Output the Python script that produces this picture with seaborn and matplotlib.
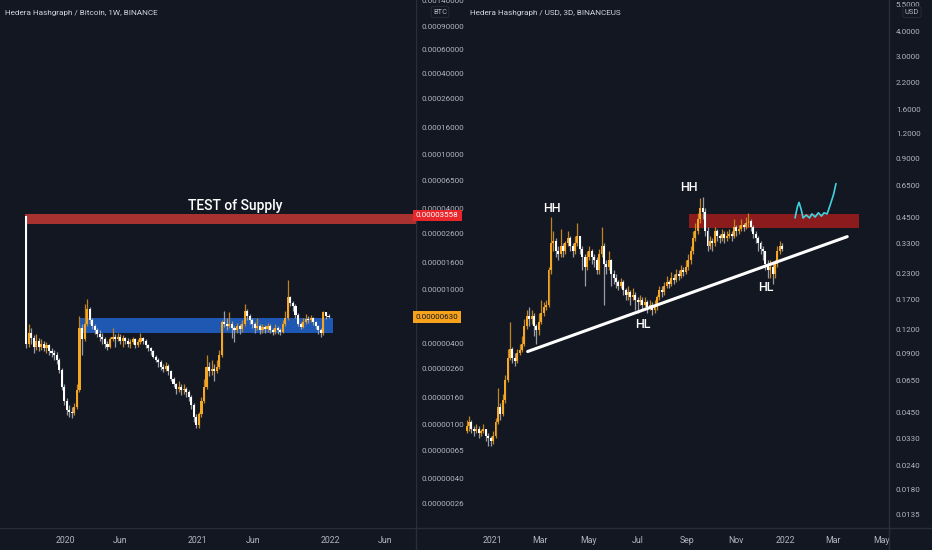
import numpy as np
import pandas as pd
import matplotlib
matplotlib.use("Agg")
import matplotlib.pyplot as plt
import matplotlib.dates as mdates
import matplotlib.transforms as mtransforms
from matplotlib.lines import Line2D
from matplotlib.ticker import NullLocator
import seaborn as sns

# --- HBAR / BTC weekly (values in satoshi, 1e-8 BTC) ---
btc_start = "2019-09-16"
btc_first_open = 3524
btc_close = [400, 480, 440, 380, 420, 380, 400, 370, 390, 350,
             340, 330, 300, 255, 190, 150, 128, 125, 122, 135,
             180, 520, 430, 560, 720, 600, 540, 500, 470, 450,
             430, 400, 380, 430, 450, 430, 450, 420, 440, 420,
             400, 410, 430, 390, 410, 440, 420, 390, 370, 350,
             320, 300, 290, 270, 260, 275, 250, 220, 200, 185,
             190, 180, 185, 175, 160, 140, 115, 100, 120, 150,
             190, 270, 250, 260, 250, 270, 330, 580, 560, 540,
             560, 520, 500, 540, 510, 560, 700, 640, 600, 560,
             520, 540, 500, 530, 510, 540, 500, 490, 520, 500,
             490, 560, 620, 880, 800, 760, 650, 560, 530, 580,
             610, 600, 620, 580, 540, 500, 480, 680, 640, 630]
btc_high = [3524, 560, 520, 460, 470, 440, 430, 420, 410, 400,
            370, 360, 345, 310, 265, 200, 158, 140, 135, 145,
            200, 640, 560, 780, 850, 740, 620, 560, 520, 500,
            480, 450, 420, 450, 520, 470, 480, 470, 460, 450,
            440, 430, 450, 440, 430, 480, 450, 430, 400, 380,
            360, 330, 310, 300, 280, 290, 280, 255, 225, 205,
            210, 200, 200, 190, 180, 165, 145, 120, 125, 160,
            220, 330, 290, 300, 280, 300, 360, 600, 700, 620,
            680, 590, 540, 570, 560, 600, 780, 720, 660, 620,
            580, 620, 560, 560, 550, 570, 560, 520, 560, 540,
            520, 600, 700, 1180, 900, 820, 780, 670, 580, 620,
            660, 640, 650, 630, 590, 550, 520, 700, 690, 660]
btc_low = [370, 380, 400, 340, 360, 350, 360, 350, 340, 330,
           320, 300, 280, 240, 180, 140, 118, 115, 112, 118,
           130, 175, 330, 420, 540, 560, 510, 470, 450, 420,
           400, 370, 360, 370, 420, 380, 420, 400, 380, 400,
           380, 370, 400, 370, 380, 400, 400, 370, 350, 330,
           310, 290, 270, 255, 245, 250, 235, 210, 190, 170,
           175, 165, 170, 160, 150, 130, 105, 95, 95, 115,
           145, 185, 230, 235, 210, 240, 260, 320, 530, 500,
           520, 440, 410, 480, 470, 490, 540, 600, 560, 520,
           480, 500, 470, 480, 480, 490, 480, 460, 470, 470,
           460, 480, 540, 600, 760, 700, 620, 540, 510, 520,
           560, 570, 580, 550, 510, 470, 450, 460, 610, 615]

# --- HBAR / USD 3-day ---
usd_start = "2020-11-30"
usd_first_open = 0.036
usd_close = [0.038, 0.040, 0.037, 0.036, 0.037, 0.035, 0.036, 0.037, 0.034, 0.033,
             0.032, 0.034, 0.040, 0.048, 0.044, 0.052, 0.066, 0.085, 0.095, 0.085,
             0.082, 0.090, 0.094, 0.100, 0.125, 0.140, 0.135, 0.140, 0.125, 0.118,
             0.130, 0.145, 0.155, 0.160, 0.240, 0.330, 0.340, 0.300, 0.290, 0.320,
             0.300, 0.330, 0.350, 0.320, 0.300, 0.330, 0.360, 0.310, 0.280, 0.250,
             0.280, 0.300, 0.280, 0.270, 0.240, 0.290, 0.320, 0.260, 0.250, 0.270,
             0.230, 0.220, 0.210, 0.200, 0.210, 0.190, 0.180, 0.185, 0.175, 0.180,
             0.170, 0.165, 0.170, 0.160, 0.165, 0.155, 0.160, 0.150, 0.155, 0.175,
             0.190, 0.185, 0.200, 0.210, 0.205, 0.220, 0.215, 0.230, 0.225, 0.240,
             0.235, 0.250, 0.270, 0.300, 0.350, 0.380, 0.440, 0.500, 0.480, 0.380,
             0.320, 0.340, 0.330, 0.380, 0.360, 0.350, 0.370, 0.350, 0.360, 0.370,
             0.360, 0.400, 0.380, 0.390, 0.410, 0.400, 0.420, 0.430, 0.400, 0.370,
             0.350, 0.330, 0.310, 0.300, 0.260, 0.240, 0.250, 0.230, 0.260, 0.300,
             0.320, 0.310]
usd_high = [0.041, 0.043, 0.041, 0.038, 0.039, 0.038, 0.037, 0.039, 0.037, 0.035,
            0.034, 0.036, 0.042, 0.060, 0.050, 0.056, 0.070, 0.095, 0.130, 0.097,
            0.090, 0.095, 0.100, 0.110, 0.135, 0.150, 0.155, 0.150, 0.145, 0.128,
            0.145, 0.170, 0.165, 0.170, 0.250, 0.450, 0.380, 0.350, 0.320, 0.390,
            0.330, 0.340, 0.380, 0.360, 0.330, 0.360, 0.420, 0.360, 0.320, 0.290,
            0.300, 0.320, 0.310, 0.290, 0.280, 0.310, 0.400, 0.330, 0.270, 0.300,
            0.275, 0.240, 0.230, 0.215, 0.220, 0.215, 0.195, 0.200, 0.190, 0.195,
            0.185, 0.175, 0.180, 0.175, 0.175, 0.170, 0.170, 0.165, 0.170, 0.180,
            0.200, 0.200, 0.210, 0.225, 0.215, 0.235, 0.230, 0.245, 0.240, 0.255,
            0.250, 0.270, 0.290, 0.320, 0.380, 0.420, 0.470, 0.560, 0.570, 0.500,
            0.400, 0.360, 0.350, 0.400, 0.390, 0.370, 0.390, 0.380, 0.380, 0.390,
            0.380, 0.440, 0.410, 0.410, 0.440, 0.420, 0.450, 0.470, 0.440, 0.410,
            0.380, 0.360, 0.340, 0.320, 0.300, 0.270, 0.270, 0.260, 0.270, 0.320,
            0.340, 0.330]
usd_low = [0.035, 0.036, 0.035, 0.034, 0.035, 0.033, 0.034, 0.035, 0.032, 0.030,
           0.030, 0.031, 0.033, 0.039, 0.041, 0.043, 0.050, 0.064, 0.083, 0.080,
           0.078, 0.080, 0.088, 0.092, 0.098, 0.120, 0.125, 0.128, 0.110, 0.100,
           0.112, 0.128, 0.140, 0.150, 0.155, 0.230, 0.300, 0.280, 0.270, 0.280,
           0.280, 0.290, 0.320, 0.300, 0.280, 0.290, 0.320, 0.290, 0.240, 0.200,
           0.240, 0.270, 0.260, 0.250, 0.230, 0.230, 0.280, 0.160, 0.230, 0.240,
           0.200, 0.205, 0.195, 0.190, 0.195, 0.180, 0.170, 0.170, 0.160, 0.170,
           0.150, 0.145, 0.160, 0.150, 0.155, 0.145, 0.150, 0.142, 0.145, 0.150,
           0.170, 0.175, 0.180, 0.195, 0.195, 0.200, 0.205, 0.210, 0.215, 0.220,
           0.225, 0.230, 0.240, 0.260, 0.290, 0.340, 0.370, 0.420, 0.440, 0.360,
           0.300, 0.310, 0.300, 0.320, 0.340, 0.330, 0.340, 0.330, 0.340, 0.350,
           0.340, 0.350, 0.360, 0.370, 0.380, 0.380, 0.390, 0.400, 0.380, 0.350,
           0.330, 0.300, 0.290, 0.270, 0.240, 0.220, 0.220, 0.205, 0.220, 0.250,
           0.290, 0.300]

# --- drawings ---
supply_btc = [3070, 3640]            # sats
supply_btc_start = "2019-09-13"
range_btc = [478, 618]               # sats
range_btc_span = ["2020-02-11", "2022-01-08"]
supply_usd = [0.395, 0.467]
supply_usd_span = ["2021-09-03", "2022-04-03"]
trend_dates = ["2021-02-14", "2022-03-19"]
trend_prices = [0.092, 0.357]
path_days = [377, 380, 382, 385, 387, 391, 395, 398, 402, 406, 410, 413, 417, 421, 425, 428]
path_prices = [0.445, 0.509, 0.535, 0.486, 0.445, 0.461, 0.445, 0.467, 0.450, 0.473,
               0.455, 0.473, 0.467, 0.522, 0.588, 0.668]
swing_labels = ["HH", "HH", "HL", "HL"]
swing_dates = ["2021-03-16", "2021-09-03", "2021-07-08", "2021-12-07"]
swing_prices = [0.50, 0.64, 0.126, 0.197]
last_btc = 630
supply_tag = 3558

# 0.0000065 sits under the last-price tag, so it is left out
btc_ticks = [0.0014, 0.0009, 0.0006, 0.0004, 0.00026, 0.00016, 0.0001, 0.000065,
             0.00004, 0.000026, 0.000016, 0.00001, 0.000004, 0.0000026,
             0.0000016, 0.000001, 0.00000065, 0.0000004, 0.00000026]
usd_ticks = [5.5, 4.0, 3.0, 2.2, 1.6, 1.2, 0.9, 0.65, 0.45, 0.33, 0.23, 0.17,
             0.12, 0.09, 0.065, 0.045, 0.033, 0.024, 0.018, 0.0135]
btc_xticks = ["2020-01-01", "2020-06-01", "2021-01-01", "2021-06-01", "2022-01-01", "2022-06-01"]
btc_xlabels = ["2020", "Jun", "2021", "Jun", "2022", "Jun"]
usd_xticks = ["2021-01-01", "2021-03-01", "2021-05-01", "2021-07-01", "2021-09-01",
              "2021-11-01", "2022-01-01", "2022-03-01", "2022-05-01"]
usd_xlabels = ["2021", "Mar", "May", "Jul", "Sep", "Nov", "2022", "Mar", "May"]

BG = "#131722"
TXT = "#b2b5be"
LINE = "#2a2e39"
UP = "#f5a623"
DOWN = "#ffffff"

sns.set_theme(style="dark", rc={"axes.facecolor": BG, "figure.facecolor": BG})
plt.rcParams["font.family"] = ["Roboto", "DejaVu Sans"]

SAT = 1e-8
d = lambda s: mdates.date2num(pd.Timestamp(s))


def draw_candles(ax, dates, first_open, close, high, low, width):
    x = mdates.date2num(dates)
    close = np.asarray(close, float)
    opens = np.concatenate([[first_open], close[:-1]])
    up = close >= opens
    ax.vlines(x, low, high, colors=np.where(up, "#c08421", "#9a9da5"),
              linewidth=0.9, zorder=2)
    lo = np.minimum(opens, close)
    hi = np.maximum(np.maximum(opens, close), lo * 1.015)
    ax.bar(x, hi - lo, bottom=lo, width=width, color=np.where(up, UP, DOWN),
           linewidth=0, zorder=3)


W, H = 932, 550
fig = plt.figure(figsize=(W / 100, H / 100), dpi=100)
ax1 = fig.add_axes([0, 22 / H, 416 / W, 528 / H])
ax2 = fig.add_axes([416 / W, 22 / H, (889 - 416) / W, 528 / H])
ax1.set_zorder(2)
ax2.set_zorder(1)
ax2.patch.set_alpha(0)

for ax in (ax1, ax2):
    ax.set_yscale("log")
    for s in ax.spines.values():
        s.set_visible(False)
    ax.grid(False)

# ---- left: HBAR/BTC ----
btc_dates = pd.date_range(btc_start, periods=len(btc_close), freq="7D")
draw_candles(ax1, btc_dates, btc_first_open * SAT,
             np.array(btc_close) * SAT, np.array(btc_high) * SAT,
             np.array(btc_low) * SAT, 5.8)
ax1.fill_between([d(supply_btc_start), d("2022-08-25")],
                 supply_btc[0] * SAT, supply_btc[1] * SAT,
                 color="#a83230", linewidth=0, zorder=1)
ax1.fill_between([d(range_btc_span[0]), d(range_btc_span[1])],
                 range_btc[0] * SAT, range_btc[1] * SAT,
                 color="#1f58b2", linewidth=0, zorder=1)
ax1.text(d("2021-04-13"), 4180 * SAT, "TEST of Supply", color="white",
         fontsize=10, fontweight="medium", ha="center", va="center")
ax1.set_xlim(d("2019-07-06"), d("2022-08-25"))
ax1.set_ylim(1.72e-7, 1.403e-3)
ax1.yaxis.set_minor_locator(NullLocator())
ax1.set_yticks(btc_ticks)
ax1.set_yticklabels([f"{v:.8f}" for v in btc_ticks])
ax1.yaxis.tick_right()
ax1.set_xticks([d(s) for s in btc_xticks])
ax1.set_xticklabels(btc_xlabels)
ax1.tick_params(axis="y", length=0, pad=4, labelsize=5.8, labelcolor=TXT,
                right=False, labelright=True, labelleft=False)
ax1.tick_params(axis="x", length=0, pad=6, labelsize=6.3, labelcolor=TXT)

tr1 = mtransforms.blended_transform_factory(ax1.transAxes, ax1.transData)
ax1.text(1.0, supply_tag * SAT, f"{supply_tag * SAT:.8f}", transform=tr1,
         color="white", fontsize=5.8, ha="left", va="center", zorder=10,
         bbox=dict(boxstyle="square,pad=0.35", fc="#e8262b", ec="none"))
ax1.text(1.0, last_btc * SAT, f"{last_btc * SAT:.8f}", transform=tr1,
         color="#131722", fontsize=5.8, ha="left", va="center", zorder=10,
         bbox=dict(boxstyle="square,pad=0.35", fc="#f7a21b", ec="none"))

# ---- right: HBAR/USD ----
usd_dates = pd.date_range(usd_start, periods=len(usd_close), freq="3D")
draw_candles(ax2, usd_dates, usd_first_open, usd_close, usd_high, usd_low, 2.4)
ax2.fill_between([d(supply_usd_span[0]), d(supply_usd_span[1])],
                 supply_usd[0], supply_usd[1], color="#921c1c", alpha=0.95,
                 linewidth=0, zorder=1)
sns.lineplot(x=[d(s) for s in trend_dates], y=trend_prices, ax=ax2,
             color="white", linewidth=2.2, zorder=4)
path_x = d("2021-01-01") + np.array(path_days)
sns.lineplot(x=path_x, y=path_prices, ax=ax2, color="#3fd3e0",
             linewidth=1.2, sort=False, zorder=4)
for lab, ds, p in zip(swing_labels, swing_dates, swing_prices):
    ax2.text(d(ds), p, lab, color="white", fontsize=9, fontweight="medium",
             ha="center", va="center")
ax2.set_xlim(d("2020-09-28"), d("2022-05-10"))
ax2.set_ylim(0.01146, 5.83)
ax2.yaxis.set_minor_locator(NullLocator())
ax2.set_yticks(usd_ticks)
ax2.set_yticklabels([f"{v:.4f}" for v in usd_ticks])
ax2.yaxis.tick_right()
ax2.set_xticks([d(s) for s in usd_xticks])
ax2.set_xticklabels(usd_xlabels)
ax2.tick_params(axis="y", length=0, pad=5, labelsize=5.8, labelcolor=TXT,
                right=False, labelright=True, labelleft=False)
ax2.tick_params(axis="x", length=0, pad=6, labelsize=6.3, labelcolor=TXT)
for ax in (ax1, ax2):
    ax.set_xlabel("")
    ax.set_ylabel("")

# frame lines, titles, scale tags
fig.add_artist(Line2D([0, 1], [22 / H, 22 / H], color=LINE, linewidth=1))
fig.add_artist(Line2D([416 / W, 416 / W], [0, 1], color=LINE, linewidth=1))
fig.add_artist(Line2D([889 / W, 889 / W], [0, 1], color=LINE, linewidth=1))
fig.text(5 / W, 1 - 13 / H, "Hedera Hashgraph / Bitcoin, 1W, BINANCE",
         color="#d1d4dc", fontsize=5.9, ha="left", va="center")
fig.text(470 / W, 1 - 13 / H, "Hedera Hashgraph / USD, 3D, BINANCEUS",
         color="#d1d4dc", fontsize=5.9, ha="left", va="center")
fig.text(440 / W, 1 - 12 / H, "BTC", color=TXT, fontsize=5.4, ha="center",
         va="center", zorder=20,
         bbox=dict(boxstyle="round,pad=0.25", fc=BG, ec=LINE, lw=0.6))
fig.text(912 / W, 1 - 12 / H, "USD", color=TXT, fontsize=5.4, ha="center",
         va="center", zorder=20,
         bbox=dict(boxstyle="round,pad=0.25", fc=BG, ec=LINE, lw=0.6))

fig.savefig("out.png", dpi=100, facecolor=BG)
